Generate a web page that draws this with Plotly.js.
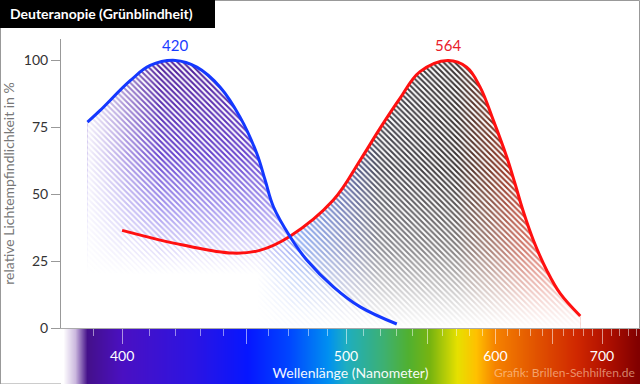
<!DOCTYPE html>
<html>
<head>
<meta charset="utf-8">
<script src="https://cdn.plot.ly/plotly-3.0.1.min.js"></script>
<style>html,body{margin:0;padding:0;background:#fff;}#chart{width:640px;height:384px;}</style>
</head>
<body>
<div id="chart"></div>
<script>
// ---- data ----
const blueNm  = [388, 392.3, 403, 410.3, 420, 428.6, 438.4, 447.1, 454.7, 458.6, 462.5, 470.6, 479, 493, 508, 530];
const blueVal = [76.9, 81.3, 92.5, 98.1, 100, 97.5, 90, 78.8, 65.2, 55.2, 45.3, 34.1, 25.4, 15.4, 7.9, 1.5];
const redNm   = [400, 423, 444, 456, 470.6, 493, 508, 519.7, 532, 545, 564, 577.8, 588, 598.4, 609.3, 616.2, 623, 632.2, 644.3, 657, 677];
const redVal  = [36.5, 31, 28, 29, 34.3, 47.8, 62.7, 74.6, 85.8, 95.8, 100, 97.5, 90, 77.6, 63.9, 54, 44, 32.8, 21.6, 12.9, 4.5];
const peakNm    = [420, 564];
const peakVal   = [100, 100];
const peakText  = ['420', '564'];
const majorNm   = [400, 450, 500, 550, 600, 650, 700];
const majorText = ['400', '', '500', '', '600', '', '700'];
const minorNm   = [380,390,410,420,430,440,460,470,480,490,510,520,530,540,560,570,580,590,610,620,630,640,660,670,680,690,710,720,730,740];
const yTicks    = [0, 25, 50, 75, 100];
const specNm    = [360, 380, 384, 388, 400, 427, 450, 470, 490, 500, 522, 537, 552, 571, 585, 600, 636, 673, 704, 741, 760];
const specColor = ['#ffffff','#ffffff','#cbb8de','#44108a','#4a10c2','#2c14e2','#0616ff','#0046ff','#0090f0','#1eaec0','#3eb070','#50b030','#78b410','#e6e000','#ffc000','#f58200','#e05000','#d02800','#b01000','#820000','#780000'];

// reciprocal (energy-like) wavelength scale used by the reference
const toU = nm => -100000 / nm;
const xRangeNm = [379.3, 744.2];
const uRange = xRangeNm.map(toU);

// ---- colorscales ----
const zmin = specNm[0], zmax = specNm[specNm.length - 1];
const specScale = specNm.map((nm, i) => [(nm - zmin) / (zmax - zmin), specColor[i]]);

const redGradNm  = [455, 475, 500, 520, 570, 595, 620, 640];
const redGradCol = ['rgba(80,120,240,0)','rgba(70,120,235,0.85)','rgba(90,100,165,1)','rgba(72,72,82,1)','rgba(58,52,52,1)','rgba(115,55,40,1)','rgba(175,45,25,1)','rgba(205,40,20,1)'];
const gu0 = toU(redGradNm[0]), gu1 = toU(redGradNm[redGradNm.length - 1]);
const redScale = redGradNm.map((nm, i) => [(toU(nm) - gu0) / (gu1 - gu0), redGradCol[i]]);

const bx = blueNm.map(toU), rx = redNm.map(toU);
const W = 'rgba(255,255,255,';
const SPL = {shape: 'spline', smoothing: 1.1};

const pattern = {shape: '\\', size: 4, solidity: 0.5, fgcolor: 'white', bgcolor: 'rgba(0,0,0,0)'};

function fillTrace(x, y, extra) {
  return Object.assign({type: 'scatter', xaxis: 'x2', yaxis: 'y2', x: x, y: y, mode: 'none',
    fill: 'tozeroy', line: SPL, hoverinfo: 'skip', showlegend: false}, extra);
}

const traces = [
  { // spectrum bar
    type: 'heatmap', xaxis: 'x', yaxis: 'y',
    x: specNm.map(toU), y: [0, 1], z: [specNm, specNm],
    zmin: zmin, zmax: zmax, colorscale: specScale, zsmooth: 'best',
    showscale: false, hoverinfo: 'skip'
  },
  fillTrace(rx, redVal, {fillgradient: {type: 'horizontal', start: gu0, stop: gu1, colorscale: redScale}}),
  fillTrace(rx, redVal, {fillgradient: {type: 'vertical', start: 0, stop: 60,
      colorscale: [[0, W+'1)'], [0.15, W+'0.85)'], [0.5, W+'0.35)'], [1, W+'0)']]}}),
  fillTrace(bx, blueVal, {fillgradient: {type: 'vertical', start: 20, stop: 100,
      colorscale: [[0, 'rgba(110,90,235,0)'], [0.3, 'rgba(95,70,225,0.55)'], [0.55, 'rgba(85,45,200,0.9)'], [1, 'rgba(80,30,150,1)']]}}),
  fillTrace(bx, blueVal, {fillgradient: {type: 'horizontal', start: toU(386), stop: toU(414),
      colorscale: [[0, W+'1)'], [0.4, W+'0.65)'], [1, W+'0)']]}}),
  fillTrace(rx, redVal, {fillcolor: 'rgba(0,0,0,0)', fillpattern: pattern}),
  fillTrace(bx, blueVal, {fillcolor: 'rgba(0,0,0,0)', fillpattern: pattern}),
  { // red line
    type: 'scatter', xaxis: 'x2', yaxis: 'y2', x: rx, y: redVal, mode: 'lines',
    line: {color: '#ff1010', width: 3, shape: 'spline', smoothing: 1.1},
    name: 'L-Zapfen (564 nm)', showlegend: false
  },
  { // blue line
    type: 'scatter', xaxis: 'x2', yaxis: 'y2', x: bx, y: blueVal, mode: 'lines',
    line: {color: '#1438ff', width: 3, shape: 'spline', smoothing: 1.1},
    name: 'S-Zapfen (420 nm)', showlegend: false
  }
];

const PW = 579, PH = 345;
const layout = {
  width: 640, height: 384,
  margin: {l: 61, r: 0, t: 39, b: 0, pad: 0},
  paper_bgcolor: '#ffffff', plot_bgcolor: 'rgba(0,0,0,0)',
  font: {family: 'Lato, "Open Sans", sans-serif', color: '#333'},
  showlegend: false,
  title: {
    text: 'Deuteranopie (Grünblindheit)',
    font: {family: 'Lato, "Open Sans", sans-serif', size: 14, color: '#ffffff', weight: 'bold'},
    xref: 'container', x: 10/640, xanchor: 'left',
    yref: 'container', y: 1 - 14/384, yanchor: 'middle'
  },
  xaxis: {domain: [0, 1], anchor: 'y', range: uRange, visible: false, fixedrange: true},
  yaxis: {domain: [0, 55/PH], anchor: 'x', range: [-0.5, 1.5], visible: false, fixedrange: true},
  xaxis2: {
    domain: [0, 1], anchor: 'y2', range: uRange,
    showline: true, linecolor: '#aaaaaa', linewidth: 1,
    showgrid: false, zeroline: false,
    ticks: 'outside', tickmode: 'array', tickvals: majorNm.map(toU), ticktext: majorText,
    ticklen: 15, tickwidth: 1, tickcolor: 'rgba(255,255,255,0.55)',
    tickfont: {size: 14, color: '#ffffff'},
    minor: {tickmode: 'array', tickvals: minorNm.map(toU), ticks: 'outside', ticklen: 7, tickwidth: 1, tickcolor: 'rgba(255,255,255,0.5)', showgrid: false},
    title: {text: 'Wellenlänge (Nanometer)', font: {size: 14, color: 'rgba(255,255,255,0.95)'}, standoff: 1}
  },
  yaxis2: {
    domain: [56/PH, 1], anchor: 'x2', range: [0, 108],
    showline: true, linecolor: '#999999', linewidth: 1,
    showgrid: false, zeroline: false,
    ticks: 'outside', tickmode: 'array', tickvals: yTicks, ticklen: 9, tickcolor: '#999999',
    tickfont: {size: 14, color: '#333333'},
    title: {text: 'relative Lichtempfindlichkeit in %', font: {size: 14, color: '#777777'}, standoff: 6}
  },
  shapes: [
    {type: 'rect', xref: 'paper', yref: 'paper', x0: -60.5/PW, x1: 578.5/PW, y0: 0, y1: 1 + 38.5/PH,
     line: {color: '#999999', width: 1}, fillcolor: 'rgba(0,0,0,0)', layer: 'below'},
    {type: 'rect', xref: 'paper', yref: 'paper', x0: -61/PW, x1: (215-61)/PW, y0: 1 + (39-28)/PH, y1: 1 + 39/PH,
     line: {width: 0}, fillcolor: '#000000', layer: 'below'}
  ],
  annotations: peakNm.map((nm, i) => ({
    x: toU(nm), y: peakVal[i], xref: 'x2', yref: 'y2', text: peakText[i], showarrow: false,
    yanchor: 'bottom', yshift: 4, font: {size: 15, color: i === 0 ? '#1a3cff' : '#e8202a'}
  })).concat([{
    x: (637-61)/PW, y: 12/PH, xref: 'paper', yref: 'paper', xanchor: 'right', yanchor: 'middle',
    text: 'Grafik: Brillen-Sehhilfen.de', showarrow: false,
    font: {size: 12, color: 'rgba(255,215,180,0.6)'}
  }])
};

Plotly.newPlot('chart', traces, layout, {staticPlot: true, displayModeBar: false});
</script>
</body>
</html>
